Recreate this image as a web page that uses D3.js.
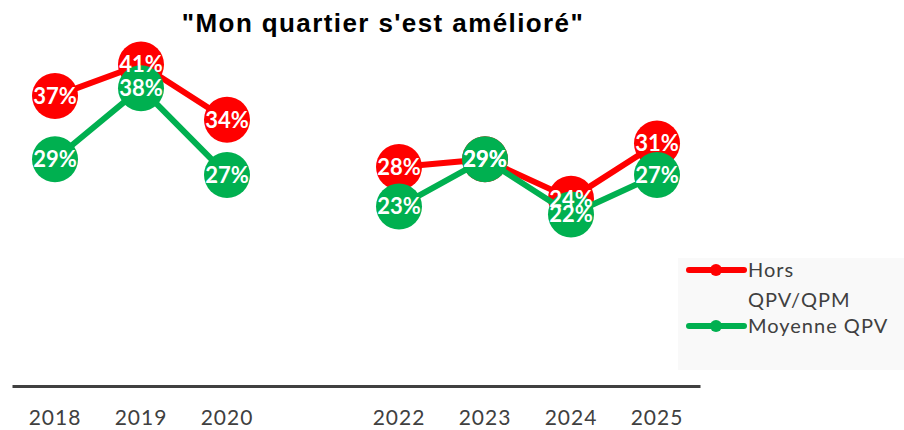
<!DOCTYPE html>
<html lang="fr">
<head>
<meta charset="UTF-8">
<title>Mon quartier s'est amélioré</title>
<script src="https://cdn.jsdelivr.net/npm/d3@7"></script>
<style>
  body { margin: 0; background: #fff; }
  text { font-family: Lato, "Open Sans", sans-serif; }
</style>
</head>
<body>
<svg width="904" height="430"></svg>
<script>
// donnees
var annees = ['2018', '2019', '2020', '2021', '2022', '2023', '2024', '2025'];
var tickLabels = ['2018', '2019', '2020', '', '2022', '2023', '2024', '2025'];
var horsQPV = [37, 41, 34, null, 28, 29, 24, 31];
var moyenneQPV = [29, 38, 27, null, 23, 29, 22, 27];
var seriesNames = ['Hors QPV/QPM', 'Moyenne QPV'];
var seriesColors = ['#ff0000', '#00b050'];

var svg = d3.select('svg');

var x = d3.scaleBand().domain(annees).range([12, 700]);
var y = d3.scaleLinear().domain([0, 45]).range([388, 388 - 45 * 7.89]);

// titre
svg.append('text')
    .attr('x', 383).attr('y', 32)
    .attr('text-anchor', 'middle')
    .style('font-family', 'Arial, "Liberation Sans", sans-serif')
    .style('font-weight', 'bold')
    .style('font-size', '26px')
    .style('letter-spacing', '1.4px')
    .attr('fill', '#000')
    .text('"Mon quartier s\'est amélioré"');

// axe x
var xAxis = d3.axisBottom(x).tickSize(0).tickPadding(24)
    .tickFormat(function(d, i) { return tickLabels[i]; });
var gx = svg.append('g')
    .attr('transform', 'translate(0,386)')
    .call(xAxis);
gx.select('.domain').attr('stroke', '#404040').attr('stroke-width', 3);
gx.selectAll('.tick text')
    .style('font-family', 'Lato, "Open Sans", sans-serif')
    .style('font-size', '21px')
    .style('letter-spacing', '1px')
    .attr('fill', '#404040');

var series = [horsQPV, moyenneQPV];
var cx = function(d, i) { return x(annees[i]) + x.bandwidth() / 2; };

var line = d3.line()
    .defined(function(d) { return d != null; })
    .x(function(d, i) { return cx(d, i); })
    .y(function(d) { return y(d); });

series.forEach(function(vals, s) {
    svg.append('path')
        .datum(vals)
        .attr('fill', 'none')
        .attr('stroke', seriesColors[s])
        .attr('stroke-width', 6)
        .attr('stroke-linejoin', 'round')
        .attr('d', line);

    svg.append('g').selectAll('circle')
        .data(vals.map(function(v, i) { return {v: v, i: i}; }).filter(function(d) { return d.v != null; }))
        .enter().append('circle')
        .attr('cx', function(d) { return cx(d.v, d.i); })
        .attr('cy', function(d) { return y(d.v); })
        .attr('r', 23)
        .attr('fill', seriesColors[s]);
});

series.forEach(function(vals) {
    svg.append('g').selectAll('text')
        .data(vals.map(function(v, i) { return {v: v, i: i}; }).filter(function(d) { return d.v != null; }))
        .enter().append('text')
        .attr('x', function(d) { return cx(d.v, d.i); })
        .attr('y', function(d) { return y(d.v); })
        .attr('dy', '0.36em')
        .attr('text-anchor', 'middle')
        .style('font-weight', 'bold')
        .style('font-size', '22px')
        .attr('fill', '#fff')
        .text(function(d) { return d.v + '%'; });
});

// legende
var leg = svg.append('g');
leg.append('rect')
    .attr('x', 678).attr('y', 258)
    .attr('width', 226).attr('height', 112)
    .attr('fill', '#f9f9f9');

var legRows = [{y: 270, lines: ['Hors', 'QPV/QPM']}, {y: 326, lines: ['Moyenne QPV']}];
legRows.forEach(function(r, s) {
    leg.append('line')
        .attr('x1', 689).attr('x2', 744)
        .attr('y1', r.y).attr('y2', r.y)
        .attr('stroke', seriesColors[s])
        .attr('stroke-width', 6)
        .attr('stroke-linecap', 'round');
    leg.append('circle')
        .attr('cx', 716).attr('cy', r.y).attr('r', 6)
        .attr('fill', seriesColors[s]);
    r.lines.forEach(function(t, k) {
        leg.append('text')
            .attr('x', 748).attr('y', r.y + 7 + k * 30)
            .style('font-size', '20px')
            .style('letter-spacing', '1px')
            .attr('fill', '#404040')
            .text(t);
    });
});
</script>
</body>
</html>
